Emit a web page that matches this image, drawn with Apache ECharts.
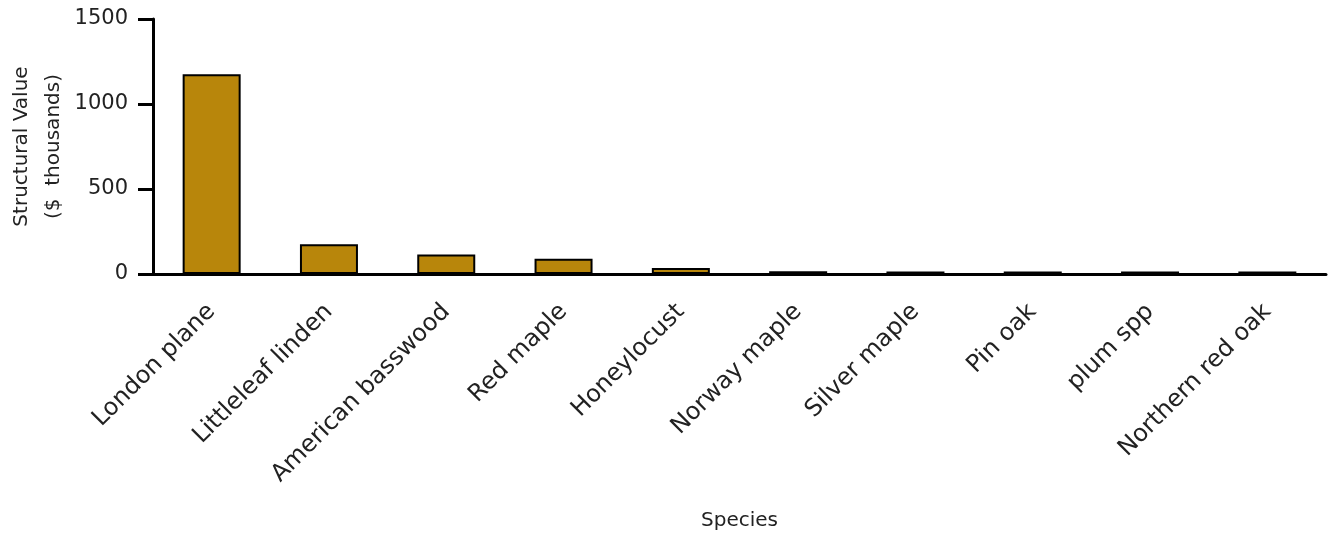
<!DOCTYPE html>
<html><head><meta charset="utf-8">
<script src="https://cdn.jsdelivr.net/npm/echarts@6/dist/echarts.min.js"></script>
<style>html,body{margin:0;padding:0;background:#fff}#c{width:1329px;height:535px}</style>
</head><body><div id="c"></div>
<script>
const categories = ["London plane","Littleleaf linden","American basswood","Red maple","Honeylocust","Norway maple","Silver maple","Pin oak","plum spp","Northern red oak"];
const values = [1175, 175, 115, 90, 36, 16, 15, 15, 14, 14];
const yTicks = [0, 500, 1000, 1500];

const chart = echarts.init(document.getElementById('c'), null, {renderer:'canvas'});
const font = 'DejaVu Sans';
chart.setOption({
  animation: false,
  grid: {left: 153, right: 3, top: 19, bottom: 261, containLabel: false, outerBoundsMode: 'none'},
  xAxis: {
    type: 'category', data: categories,
    name: 'Species', nameLocation: 'middle', nameGap: 237, nameMoveOverlap: false,
    nameTextStyle: {fontFamily: font, fontSize: 20, color: '#222'},
    axisLine: {lineStyle: {color: '#000', width: 3}},
    axisTick: {alignWithLabel: true, length: 15, lineStyle: {color: '#000', width: 3}},
    axisLabel: {rotate: 45, margin: 34, fontFamily: font, fontSize: 24, color: '#222', interval: 0}
  },
  yAxis: {
    type: 'value', min: yTicks[0], max: yTicks[yTicks.length-1], interval: 500,
    name: 'Structural Value\n($  thousands)', nameLocation: 'middle', nameGap: 83, nameRotate: 90, nameMoveOverlap: false,
    nameTextStyle: {fontFamily: font, fontSize: 20, color: '#222', lineHeight: 32},
    axisLine: {show: true, lineStyle: {color: '#000', width: 3}},
    axisTick: {show: true, length: 15, lineStyle: {color: '#000', width: 3}},
    axisLabel: {margin: 25, fontFamily: font, fontSize: 21, color: '#222', formatter: v => String(v)},
    splitLine: {show: false}
  },
  series: [{
    type: 'bar', data: values, barWidth: 58,
    itemStyle: {color: '#B8860B', borderColor: '#000', borderWidth: 2}
  }]
});
</script></body></html>
